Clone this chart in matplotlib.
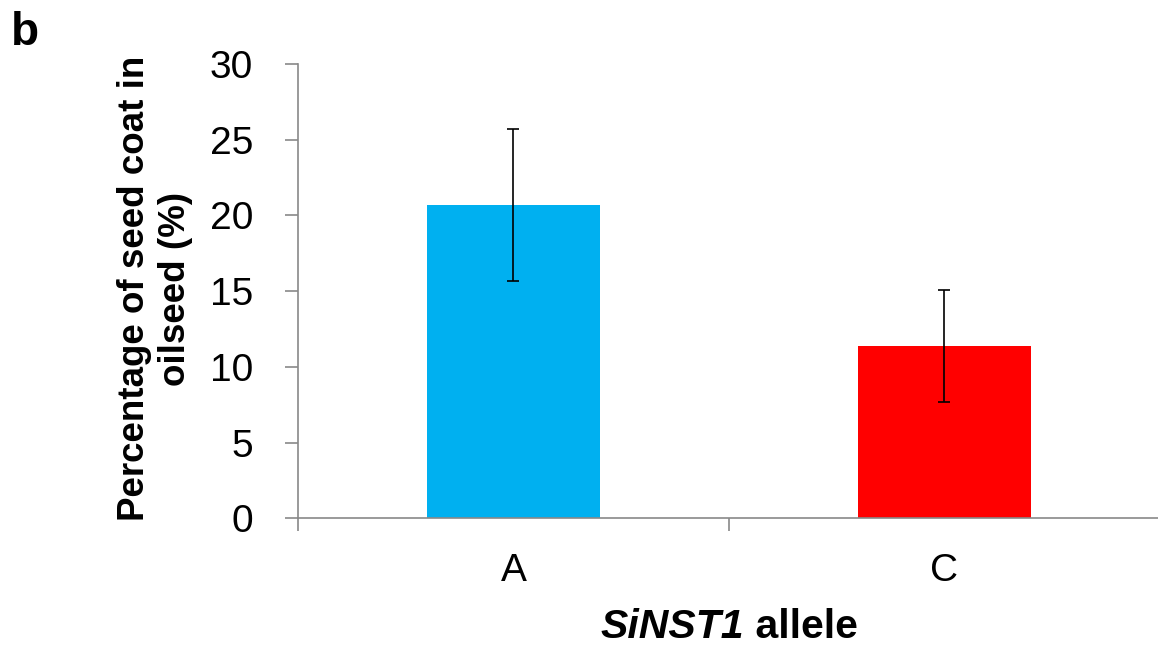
import matplotlib
matplotlib.use('Agg')
import matplotlib.pyplot as plt

plt.rcParams['font.family'] = ['Liberation Sans', 'DejaVu Sans']

# datos
alleles = ['A', 'C']
seed_coat = [20.7, 11.4]
seed_coat_err = [5.0, 3.7]
bar_colors = ['#00B0F0', '#FF0000']
yticks = [0, 5, 10, 15, 20, 25, 30]

fig = plt.figure(figsize=(11.58, 6.46), dpi=100)
ax = fig.add_axes([0.2573, 0.1974, 0.7444, 0.7036])

pos = list(range(len(alleles)))
ax.bar(pos, seed_coat, width=0.40, color=bar_colors, zorder=2)
ax.errorbar(pos, seed_coat, yerr=seed_coat_err, fmt='none', ecolor='black',
            elinewidth=1.2, capsize=4.2, capthick=1.2, zorder=3)

ax.set_xlim(-0.5, 1.5)
ax.set_ylim(0, 30)
ax.set_yticks(yticks)

# etiquetas en el centro de cada barra, marcas entre categorias
ax.set_xticks(pos)
ax.set_xticklabels(alleles)
ax.set_xticks([-0.5, 0.5, 1.5], minor=True)
ax.tick_params(axis='x', which='major', length=0, pad=25, labelsize=28)
ax.tick_params(axis='x', which='minor', length=9.4, width=1.2, color='#898989', direction='out')
ax.tick_params(axis='y', length=9.4, width=1.2, color='#898989', pad=23, labelsize=28)

for s in ['top', 'right']:
    ax.spines[s].set_visible(False)
for s in ['left', 'bottom']:
    ax.spines[s].set_color('#898989')
    ax.spines[s].set_linewidth(1.2)

fig.text(155 / 1158, 0.5534, 'Percentage of seed coat in\noilseed (%)', rotation=90,
         ha='center', va='center', multialignment='center',
         fontsize=26.5, fontweight='bold')

# titulo del eje x: parte en cursiva + parte normal, centrado en el eje
r = fig.canvas.get_renderer()
t1 = fig.text(0, 0.013, 'SiNST1', fontsize=29.5, fontweight='bold', style='italic', va='baseline')
t2 = fig.text(0, 0.013, '\u00a0allele', fontsize=29.5, fontweight='bold', va='baseline')
w1 = t1.get_window_extent(r).width
w2 = t2.get_window_extent(r).width
W = fig.get_figwidth() * fig.dpi
x0 = (729 - (w1 + w2) / 2) / W
t1.set_x(x0)
t2.set_x(x0 + w1 / W)

fig.text(0.009, 1 - 45 / 646, 'b', fontsize=33, fontweight='bold', va='baseline')

fig.savefig('out.png', dpi=100)
